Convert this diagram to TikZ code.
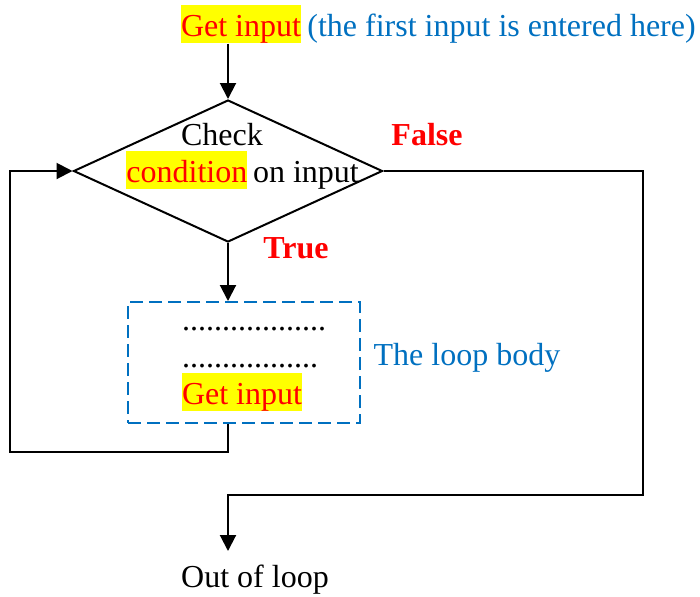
\documentclass[tikz,border=0pt]{standalone}
\usepackage{fontspec}
\setmainfont{Liberation Serif}
\usetikzlibrary{arrows.meta,shapes.geometric}
\definecolor{hlyellow}{RGB}{255,255,0}
\definecolor{hlred}{RGB}{255,0,0}
\definecolor{noteblue}{RGB}{0,112,192}
\def\midx{228}
\def\diaw{154.5pt}
\def\diah{71pt}
\def\boxw{116pt}
\def\boxh{60.5pt}

\begin{document}
\begin{tikzpicture}[x=0.5pt,y=-0.5pt,
	every node/.style={font=\fontsize{16}{18.5}\selectfont,inner sep=0pt},
	hl/.style={fill=hlyellow,text=hlred,text height=15.4pt,text depth=3.6pt},
	note/.style={text=noteblue},
	branch/.style={text=hlred,font=\fontsize{16}{18.5}\selectfont\bfseries},
	decision/.style={diamond,draw,line width=1pt,minimum width=\diaw,minimum height=\diah},
	loopbox/.style={rectangle,draw=noteblue,line width=1pt,dash pattern=on 6.5pt off 3pt,minimum width=\boxw,minimum height=\boxh},
	flow/.style={line width=1pt},
	arrow/.style={flow,-{Triangle[width=8pt,length=8pt]}}
	]
	\useasboundingbox (0,0) rectangle (700,596);
	
	% first input
	\node[hl,anchor=base] (getin) at (241,36) {Get input};
	\node[note,anchor=base west] (firstnote) at (307,36) {(the first input is entered here)};
	
	% condition
	\node[decision] (check) at (\midx,171) {};
	\node[anchor=base] (checkA) at (222,145) {Check};
	\node[hl,anchor=base west] (cond) at (126,182) {condition};
	\node[anchor=base west,inner xsep=0.25em] (onin) at (cond.base east) {on input};
	\node[branch,anchor=base] (false) at (427,145) {False};
	\node[branch,anchor=base] (true) at (296,258) {True};
	
	% loop body
	\node[loopbox] (body) at (244,362.5) {};
	\node[anchor=base] (dotsA) at (254,330) {..................};
	\node[anchor=base] (dotsB) at (250,367) {.................};
	\node[hl,anchor=base] (getagain) at (242,404) {Get input};
	\node[note,anchor=base] (bodynote) at (467,365) {The loop body};
	
	\node[anchor=base] (out) at (255,587) {Out of loop};
	
	\coordinate (back) at (10,452);
	\coordinate (exitcorner) at (643,495);
	\coordinate (outend) at (\midx,551);
	
	\draw[arrow] (getin.south -| check.north) -- (check.north);
	\draw[arrow] (check.south) -- (check.south |- body.north);
	\draw[arrow] (check.south |- body.south) |- (back) |- (check.west);
	\draw[arrow] (check.east) -| (exitcorner) -| (outend);
\end{tikzpicture}
\end{document}
